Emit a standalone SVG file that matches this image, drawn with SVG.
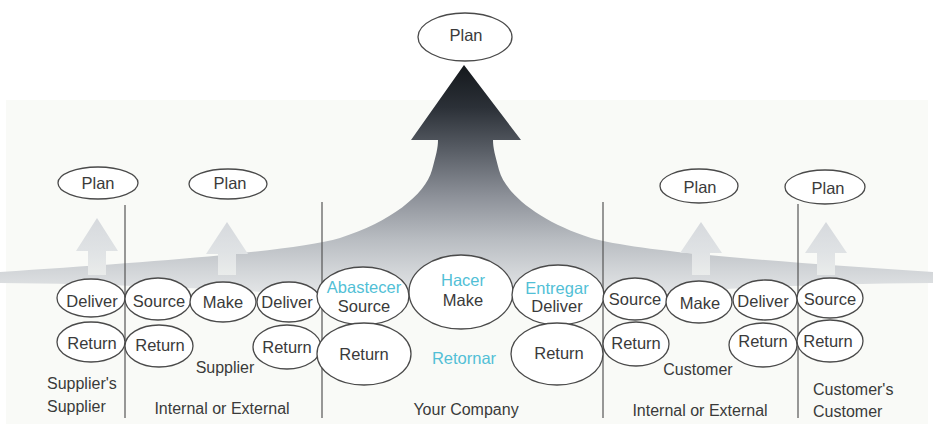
<svg xmlns="http://www.w3.org/2000/svg" width="933" height="424" viewBox="0 0 933 424">
  <defs>
    <linearGradient id="bigGrad" gradientUnits="userSpaceOnUse" x1="0" y1="65" x2="0" y2="300">
      <stop offset="0" stop-color="#14181c"/>
      <stop offset="0.18" stop-color="#2b3037"/>
      <stop offset="0.36" stop-color="#585d65"/>
      <stop offset="0.56" stop-color="#8d9199"/>
      <stop offset="0.74" stop-color="#b8bcc1"/>
      <stop offset="0.88" stop-color="#d3d6d9"/>
      <stop offset="1" stop-color="#e8eaeb"/>
    </linearGradient>
    <linearGradient id="smallGrad" x1="0" y1="0" x2="0" y2="1">
      <stop offset="0" stop-color="#d6d9dd"/>
      <stop offset="0.6" stop-color="#e0e3e5"/>
      <stop offset="1" stop-color="#eaeceb"/>
    </linearGradient>
  </defs>
  <style>
    .node ellipse { fill: #ffffff; stroke: #4a4a4a; stroke-width: 1.3; }
    text { font-family: "Liberation Sans", Arial, sans-serif; font-size: 16.5px; fill: #3a3a3a; text-anchor: middle; }
    .es { fill: #52bfd6; }
    .lbl { font-size: 16px; }
    .lft { text-anchor: start; }
    .divider { stroke: #555555; stroke-width: 1.2; }
    .small { fill: url(#smallGrad); }
  </style>

  <rect x="0" y="0" width="933" height="424" fill="#ffffff"/>
  <rect x="6" y="100" width="922" height="324" fill="#f9faf7"/>

  <g id="connectors">
    <path id="main-flow" fill="url(#bigGrad)" d="M0,272 C150,262 290,252 340,238 C390,222 425,195 432,170 C436,155 438,148 438,140 L411,140 L464,65 L521,140 L493,140 C493,148 495,155 499,170 C506,195 541,222 591,238 C641,252 781,262 933,272 L933,283 C700,285 600,300 465,300 C330,300 230,285 0,283 Z"/>
    <path class="small" d="M97,218 L118,251 L106,251 L106,275 L88,275 L88,251 L76,251 Z"/>
    <path class="small" d="M227,222 L248,254 L236,254 L236,275 L218,275 L218,254 L206,254 Z"/>
    <path class="small" d="M701,222 L722,253 L710,253 L710,275 L692,275 L692,253 L680,253 Z"/>
    <path class="small" d="M826,222 L847,253 L835,253 L835,275 L817,275 L817,253 L805,253 Z"/>
  </g>

  <g id="dividers">
    <line class="divider" x1="125" y1="205" x2="125" y2="418"/>
    <line class="divider" x1="322" y1="202" x2="322" y2="418"/>
    <line class="divider" x1="603" y1="202" x2="603" y2="418"/>
    <line class="divider" x1="798" y1="204" x2="798" y2="418"/>
  </g>

  <g id="plan-top" class="node"><ellipse cx="465" cy="37" rx="47" ry="24"/><text x="466" y="41">Plan</text></g>
  <g id="plan-1" class="node"><ellipse cx="98" cy="183" rx="40" ry="16"/><text x="98" y="189">Plan</text></g>
  <g id="plan-2" class="node"><ellipse cx="228" cy="184" rx="39" ry="15"/><text x="230" y="189">Plan</text></g>
  <g id="plan-3" class="node"><ellipse cx="699" cy="186" rx="39" ry="17"/><text x="700" y="193">Plan</text></g>
  <g id="plan-4" class="node"><ellipse cx="825" cy="187" rx="40" ry="17"/><text x="828" y="194">Plan</text></g>

  <g id="ss-deliver" class="node"><ellipse cx="91" cy="298" rx="34" ry="19"/><text x="92" y="307">Deliver</text></g>
  <g id="ss-return" class="node"><ellipse cx="91" cy="342" rx="34" ry="20"/><text x="92" y="349">Return</text></g>
  <g id="s-source" class="node"><ellipse cx="158" cy="299" rx="33" ry="21"/><text x="159" y="307">Source</text></g>
  <g id="s-return" class="node"><ellipse cx="159" cy="346" rx="34" ry="21"/><text x="160" y="351">Return</text></g>
  <g id="s-make" class="node"><ellipse cx="223" cy="302" rx="33" ry="20"/><text x="223" y="308">Make</text></g>
  <g id="s-deliver" class="node"><ellipse cx="289" cy="302" rx="32" ry="20"/><text x="287" y="308">Deliver</text></g>
  <g id="s-return2" class="node"><ellipse cx="287" cy="347" rx="34" ry="22"/><text x="287" y="353">Return</text></g>

  <g id="c-source" class="node"><ellipse cx="363" cy="296" rx="46" ry="29"/><text class="es" x="364" y="293">Abastecer</text><text x="364" y="312">Source</text></g>
  <g id="c-make" class="node"><ellipse cx="461" cy="292" rx="52" ry="37"/><text class="es" x="463" y="286">Hacer</text><text x="463" y="306">Make</text></g>
  <g id="c-deliver" class="node"><ellipse cx="558" cy="295" rx="46" ry="30"/><text class="es" x="557" y="294">Entregar</text><text x="557" y="312">Deliver</text></g>
  <g id="c-return-source" class="node"><ellipse cx="364" cy="354" rx="47" ry="31"/><text x="364" y="360">Return</text></g>
  <g id="c-return-deliver" class="node"><ellipse cx="557" cy="354" rx="46" ry="31"/><text x="559" y="359">Return</text></g>
  <g id="c-retornar"><text class="es" x="464" y="364">Retornar</text></g>

  <g id="cu-source" class="node"><ellipse cx="635" cy="299" rx="32" ry="21"/><text x="635" y="305">Source</text></g>
  <g id="cu-return" class="node"><ellipse cx="636" cy="344" rx="33" ry="22"/><text x="636" y="349">Return</text></g>
  <g id="cu-make" class="node"><ellipse cx="699" cy="302" rx="33" ry="21"/><text x="700" y="309">Make</text></g>
  <g id="cu-deliver" class="node"><ellipse cx="765" cy="300" rx="32" ry="20"/><text x="763" y="307">Deliver</text></g>
  <g id="cu-return2" class="node"><ellipse cx="763" cy="345" rx="34" ry="22"/><text x="763" y="347">Return</text></g>
  <g id="cc-source" class="node"><ellipse cx="830" cy="298" rx="33" ry="20"/><text x="830" y="305">Source</text></g>
  <g id="cc-return" class="node"><ellipse cx="830" cy="341" rx="33" ry="21"/><text x="828" y="347">Return</text></g>

  <g id="labels">
    <text class="lbl lft" x="47" y="389">Supplier's</text>
    <text class="lbl lft" x="47" y="412">Supplier</text>
    <text class="lbl" x="225" y="373">Supplier</text>
    <text class="lbl" x="222" y="414">Internal or External</text>
    <text class="lbl" x="466" y="415">Your Company</text>
    <text class="lbl" x="698" y="375">Customer</text>
    <text class="lbl" x="700" y="416">Internal or External</text>
    <text class="lbl lft" x="813" y="395">Customer's</text>
    <text class="lbl lft" x="813" y="417">Customer</text>
  </g>
</svg>
